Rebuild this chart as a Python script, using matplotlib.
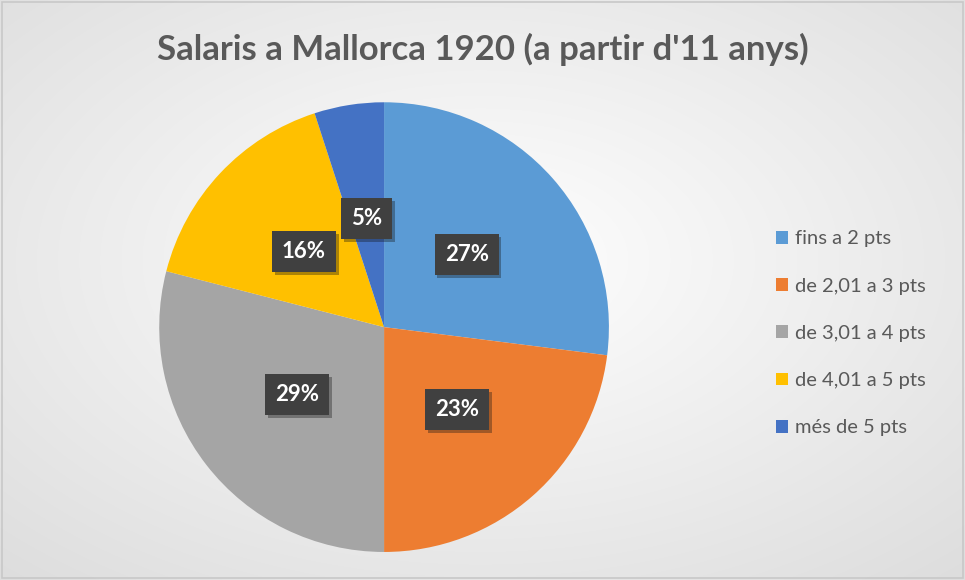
import numpy as np
import matplotlib
matplotlib.use('Agg')
import matplotlib.pyplot as plt
import matplotlib.patheffects as pe

plt.rcParams['font.family'] = ['Lato', 'DejaVu Sans']

TITLE = "Salaris a Mallorca 1920 (a partir d'11 anys)"
categories = ['fins a 2 pts', 'de 2,01 a 3 pts', 'de 3,01 a 4 pts',
              'de 4,01 a 5 pts', 'més de 5 pts']
shares = [27, 23, 29, 16, 5]
colors = ['#5B9BD5', '#ED7D31', '#A5A5A5', '#FFC000', '#4472C4']

fig = plt.figure(figsize=(9.65, 5.8), dpi=100)

# background: soft radial gradient like the Excel chart area
bg = fig.add_axes([0, 0, 1, 1], zorder=-10)
yy, xx = np.mgrid[0:580, 0:965]
r = np.sqrt(((xx - 480) / 700.0) ** 2 + ((yy - 260) / 420.0) ** 2)
shade = 1.0 - 0.13 * np.clip(r, 0, 1)
bg.imshow(np.dstack([shade, shade, shade]), aspect='auto', extent=[0, 1, 0, 1])
bg.set_xlim(0, 1); bg.set_ylim(0, 1)
bg.add_patch(plt.Rectangle((0.002, 0.003), 0.996, 0.994, fill=False,
                           edgecolor='#c8c8c8', linewidth=1.2))
bg.axis('off')

ax = fig.add_axes([0.165, 0.048, 0.466, 0.776])
wedges, texts, autotexts = ax.pie(
    shares, colors=colors, startangle=90, counterclock=False,
    autopct='%d%%', pctdistance=0.49,
    wedgeprops=dict(linewidth=0))
for t in autotexts:
    t.set_color('white')
    t.set_fontsize(16)
    t.set_fontweight('bold')
    t.set_bbox(dict(boxstyle='square,pad=0.45', facecolor='#404040',
                    edgecolor='none',
                    path_effects=[pe.withSimplePatchShadow(offset=(2, -2), alpha=0.35)]))
ax.set_xlim(-1.0, 1.0)
ax.set_ylim(-1.0, 1.0)
ax.set_aspect('equal')

fig.text(0.5, 0.915, TITLE, ha='center', va='center', fontsize=25,
         color='#595959', fontweight='bold')

fig.legend(wedges, categories, loc='upper left', bbox_to_anchor=(0.785, 0.634),
           frameon=False, fontsize=14.5, labelcolor='#595959',
           handlelength=0.6, handleheight=0.6, handletextpad=0.35,
           labelspacing=1.5)

plt.savefig('out.png', dpi=100)
